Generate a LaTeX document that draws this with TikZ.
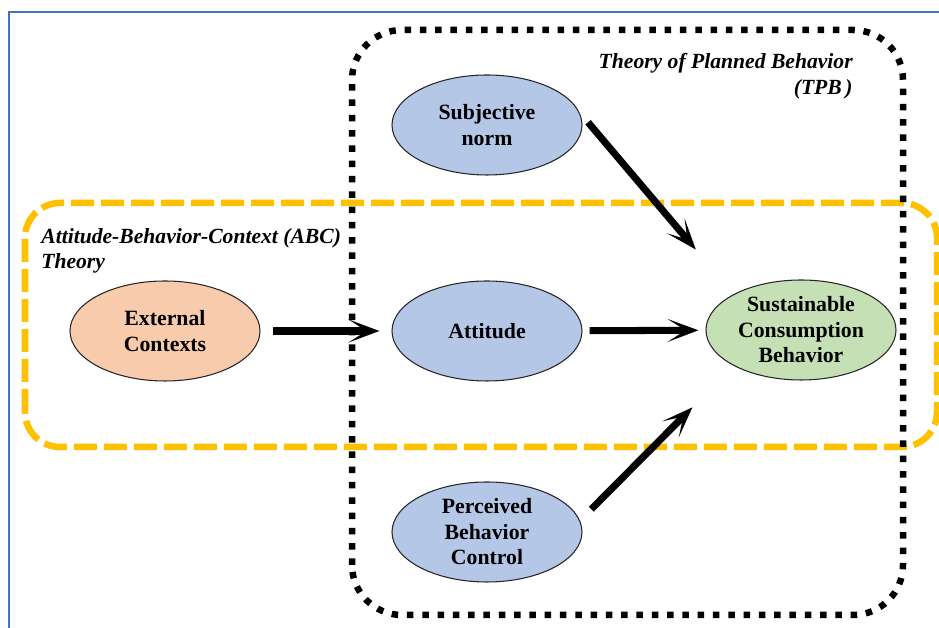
\documentclass[tikz,border=0pt]{standalone}
\usepackage{fontspec}
\setmainfont{Liberation Serif}
\usepackage{tikz}
\usetikzlibrary{shapes.geometric, arrows.meta, positioning}

\definecolor{extfill}{HTML}{F8CBAD}
\definecolor{tpbfill}{HTML}{B4C7E7}
\definecolor{scbfill}{HTML}{C5E0B4}
\definecolor{abcline}{HTML}{FFC000}
\definecolor{frameline}{HTML}{4472C4}

\begin{document}
\begin{tikzpicture}[
        oval/.style={ellipse, draw=black!85, line width=0.6pt, minimum width=3.8cm, minimum height=2cm,
            inner sep=0pt, align=center, font=\fontsize{12.4}{14.5}\selectfont\bfseries},
        arr/.style={line width=4pt, -{Stealth[length=0.62cm, width=0.46cm, inset=0.36cm]}},
        label text/.style={font=\fontsize{12.3}{14.5}\selectfont\bfseries\itshape, inner sep=0pt}]

        \useasboundingbox (0,0) rectangle (18.78,12.56);
        \draw[frameline, line width=0.6pt] (0.18,0) -- (0.18,12.32) -- (18.78,12.32);

        % the two theory boxes
        \draw[abcline, line width=0.13cm, dash pattern=on 0.46cm off 0.14cm, rounded corners=0.7cm]
            (0.5,3.62) rectangle (18.74,8.5);
        \draw[black, line width=0.13cm, dash pattern=on 0.13cm off 0.176cm, rounded corners=1cm]
            (7.04,0.26) rectangle (18.06,11.96);

        \node[label text, anchor=north east, align=right] (TPB) at (17.06,11.5)
            {Theory of Planned Behavior\\(TPB\,)};
        \node[label text, anchor=north west, align=left] (ABC) at (0.82,8.0)
            {Attitude-Behavior-Context (ABC)\\Theory};

        \node[oval, fill=extfill] (Ext) at (3.3,5.94) {External\\Contexts};
        \node[oval, fill=tpbfill] (Subj) at (9.74,10.06) {Subjective\\norm};
        \node[oval, fill=tpbfill] (Att) at (9.74,5.94) {Attitude};
        \node[oval, fill=tpbfill] (PBC) at (9.74,1.92) {Perceived\\Behavior\\Control};
        \node[oval, fill=scbfill] (SCB) at (16.02,5.96) {Sustainable\\Consumption\\Behavior};

        \draw[arr, shorten <=0.24cm, shorten >=0.24cm] (Ext) -- (Att);
        \draw[arr, shorten <=0.14cm, shorten >=0.14cm] (Att) -- (SCB);
        \draw[arr, shorten <=0.27cm, shorten >=1.17cm] (Subj.8) -- (SCB.152);
        \draw[arr, shorten <=0.32cm, shorten >=1.17cm] (PBC.7) -- (SCB.208);

    \end{tikzpicture}
\end{document}
